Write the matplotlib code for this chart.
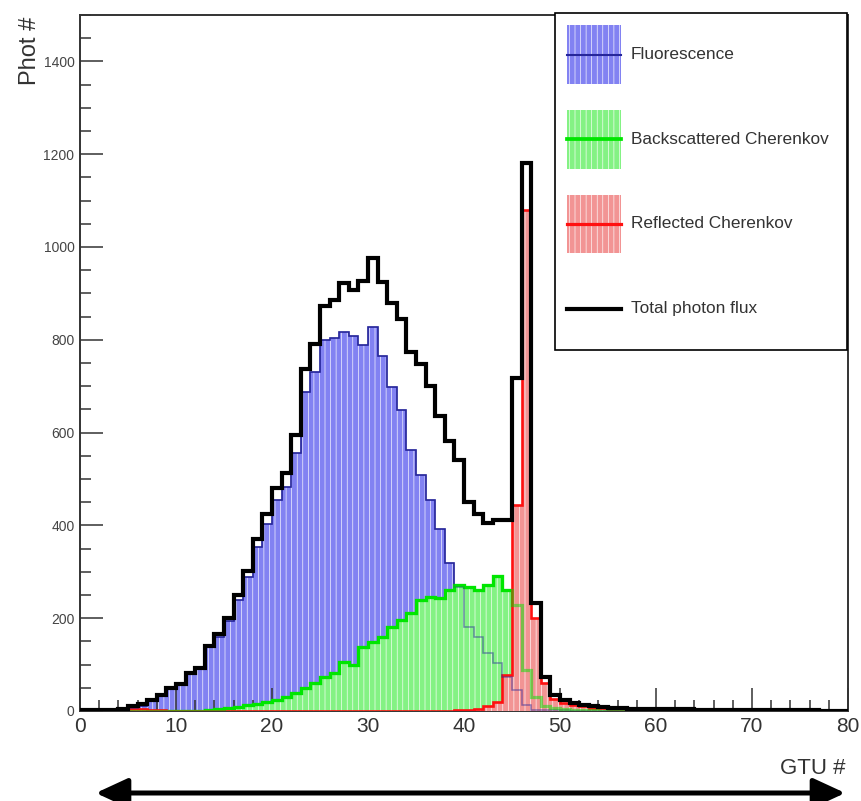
import numpy as np
import matplotlib
matplotlib.use("Agg")
import matplotlib.pyplot as plt
from matplotlib.patches import Rectangle, FancyArrowPatch
from matplotlib.lines import Line2D
from matplotlib.legend_handler import HandlerBase
from matplotlib.ticker import MultipleLocator

plt.rcParams["font.family"] = ["Liberation Sans", "DejaVu Sans"]
plt.rcParams["hatch.color"] = "white"
plt.rcParams["hatch.linewidth"] = 0.45

# GTU bins (one bin per GTU)
gtu_edges = np.arange(0, 81)

# Photon counts per GTU bin for each component
fluorescence = [
    2, 2, 3, 3, 5, 6, 11, 21, 33, 48,
    58, 80, 90, 137, 160, 194, 240, 288, 354, 404,
    455, 483, 555, 687, 730, 799, 803, 816, 808, 788,
    827, 765, 698, 648, 562, 508, 454, 392, 320, 267,
    181, 159, 125, 103, 73, 45, 13, 3, 3, 2,
    2, 1, 1, 1, 1, 1, 1, 1, 1, 1,
    1, 1, 1, 1, 0, 1, 0, 1, 0, 0,
    1, 0, 0, 0, 1, 0, 0, 0, 0, 0,
]
backscattered = [
    0, 0, 0, 0, 0, 0, 0, 0, 0, 0,
    0, 0, 1, 2, 4, 6, 9, 12, 15, 19,
    24, 30, 38, 50, 60, 73, 82, 106, 99, 138,
    149, 159, 181, 196, 211, 239, 246, 243, 261, 271,
    267, 261, 271, 290, 261, 228, 88, 30, 10, 6,
    4, 3, 2, 2, 1, 1, 1, 0, 0, 0,
    0, 0, 0, 0, 0, 0, 0, 0, 0, 0,
    0, 0, 0, 0, 0, 0, 0, 0, 0, 0,
]
reflected = [
    0, 0, 0, 0, 0, 5, 5, 3, 2, 1,
    1, 1, 1, 1, 1, 1, 1, 1, 1, 1,
    1, 1, 1, 1, 1, 1, 1, 1, 1, 1,
    1, 1, 1, 1, 1, 1, 1, 1, 1, 2,
    3, 5, 10, 19, 77, 444, 1079, 200, 60, 26,
    18, 13, 10, 7, 6, 5, 4, 4, 4, 3,
    4, 3, 3, 3, 3, 2, 3, 2, 2, 3,
    2, 2, 2, 2, 1, 2, 2, 1, 1, 1,
]
total = np.sum([fluorescence, backscattered, reflected], axis=0)

labels = ["Fluorescence", "Backscattered Cherenkov", "Reflected Cherenkov",
          "Total photon flux"]
fill_colors = ["#8282f2", "#84f284", "#f29494", None]
line_colors = ["#26269a", "#00e600", "#ff1010", "black"]
line_widths = [1.1, 2.3, 1.9, 3.0]


class HistKeyHandler(HandlerBase):
    """Legend key: optional hatched box with a line through its middle."""

    def __init__(self, facecolor, linecolor, linewidth):
        super().__init__()
        self.fc, self.lc, self.lw = facecolor, linecolor, linewidth

    def create_artists(self, legend, orig_handle, xdescent, ydescent,
                       width, height, fontsize, trans):
        artists = []
        if self.fc is not None:
            artists.append(Rectangle((-xdescent, -ydescent), width, height,
                                     facecolor=self.fc, edgecolor="white",
                                     hatch="|||", linewidth=0, transform=trans))
        y = height / 2 - ydescent
        artists.append(Line2D([-xdescent, -xdescent + width], [y, y],
                              color=self.lc, linewidth=self.lw, transform=trans))
        return artists


W, H = 861, 801
fig = plt.figure(figsize=(W / 100, H / 100), dpi=100)
ax = fig.add_axes([80 / W, 1 - 711 / H, (848 - 80) / W, (711 - 15) / H])

series = [fluorescence, backscattered, reflected]
for i, vals in enumerate(series):
    fc, lc, lw = fill_colors[i], line_colors[i], line_widths[i]
    z = 1 + 2 * i
    ax.stairs(vals, gtu_edges, fill=True, facecolor=fc, edgecolor="white",
              hatch="|||", linewidth=0, zorder=z)
    ax.stairs(vals, gtu_edges, color=lc, linewidth=lw, baseline=None, zorder=z + 1)
    if i < 2:
        # faint copy so the outline stays visible through later fills
        ax.stairs(vals, gtu_edges, color=lc, linewidth=lw, baseline=None,
                  alpha=0.5, zorder=6.5)

ax.stairs(total, gtu_edges, color="black", linewidth=3.0, baseline=None, zorder=10)

ax.set_xlim(0, 80)
ax.set_ylim(0, 1500)
ax.xaxis.set_major_locator(MultipleLocator(10))
ax.xaxis.set_minor_locator(MultipleLocator(2))
ax.yaxis.set_major_locator(MultipleLocator(200))
ax.yaxis.set_minor_locator(MultipleLocator(50))
ax.tick_params(which="both", direction="in", top=False, right=False,
               color="#333333", width=1.1)
ax.tick_params(which="major", length=16.5)
ax.tick_params(which="minor", length=8)
ax.tick_params(axis="x", which="major", labelsize=15, pad=4, labelcolor="#333333")
ax.tick_params(axis="y", which="major", labelsize=10, pad=4, labelcolor="#444444")
for sp in ax.spines.values():
    sp.set_linewidth(1.4)
    sp.set_color("#333333")

fig.text(30 / W, 1 - 17 / H, "Phot #", rotation=90, ha="center", va="top",
         fontsize=17, color="#333333")
fig.text(845 / W, 1 - 774 / H, "GTU #", ha="right", va="baseline",
         fontsize=16, color="#333333")

handles = [Line2D([], []) for _ in labels]
handler_map = {h: HistKeyHandler(fc, lc, lw + (0.4 if fc is not None else 0))
               for h, fc, lc, lw in zip(handles, fill_colors, line_colors, line_widths)}

x0 = (555 - 80) / 768
leg = ax.legend(handles, labels, loc="upper left",
                bbox_to_anchor=(x0, 0.0, (847 - 555) / 768, 1.0 + 2 / 696),
                mode="expand", borderaxespad=0, fontsize=12.4,
                handlelength=3.1, handleheight=4.85, labelspacing=1.52,
                handletextpad=0.6, borderpad=0.72,
                fancybox=False, framealpha=1, edgecolor="black",
                handler_map=handler_map)
leg.get_frame().set_linewidth(1.2)
leg.set_zorder(20)
for t in leg.get_texts():
    t.set_color("#333333")

arrow = FancyArrowPatch((93 / W, 1 - 793 / H), (848 / W, 1 - 793 / H),
                        transform=fig.transFigure,
                        arrowstyle="<|-|>,head_length=0.65,head_width=0.3",
                        mutation_scale=30, linewidth=3.6, color="black")
fig.patches.append(arrow)

fig.savefig("out.png", dpi=100)
